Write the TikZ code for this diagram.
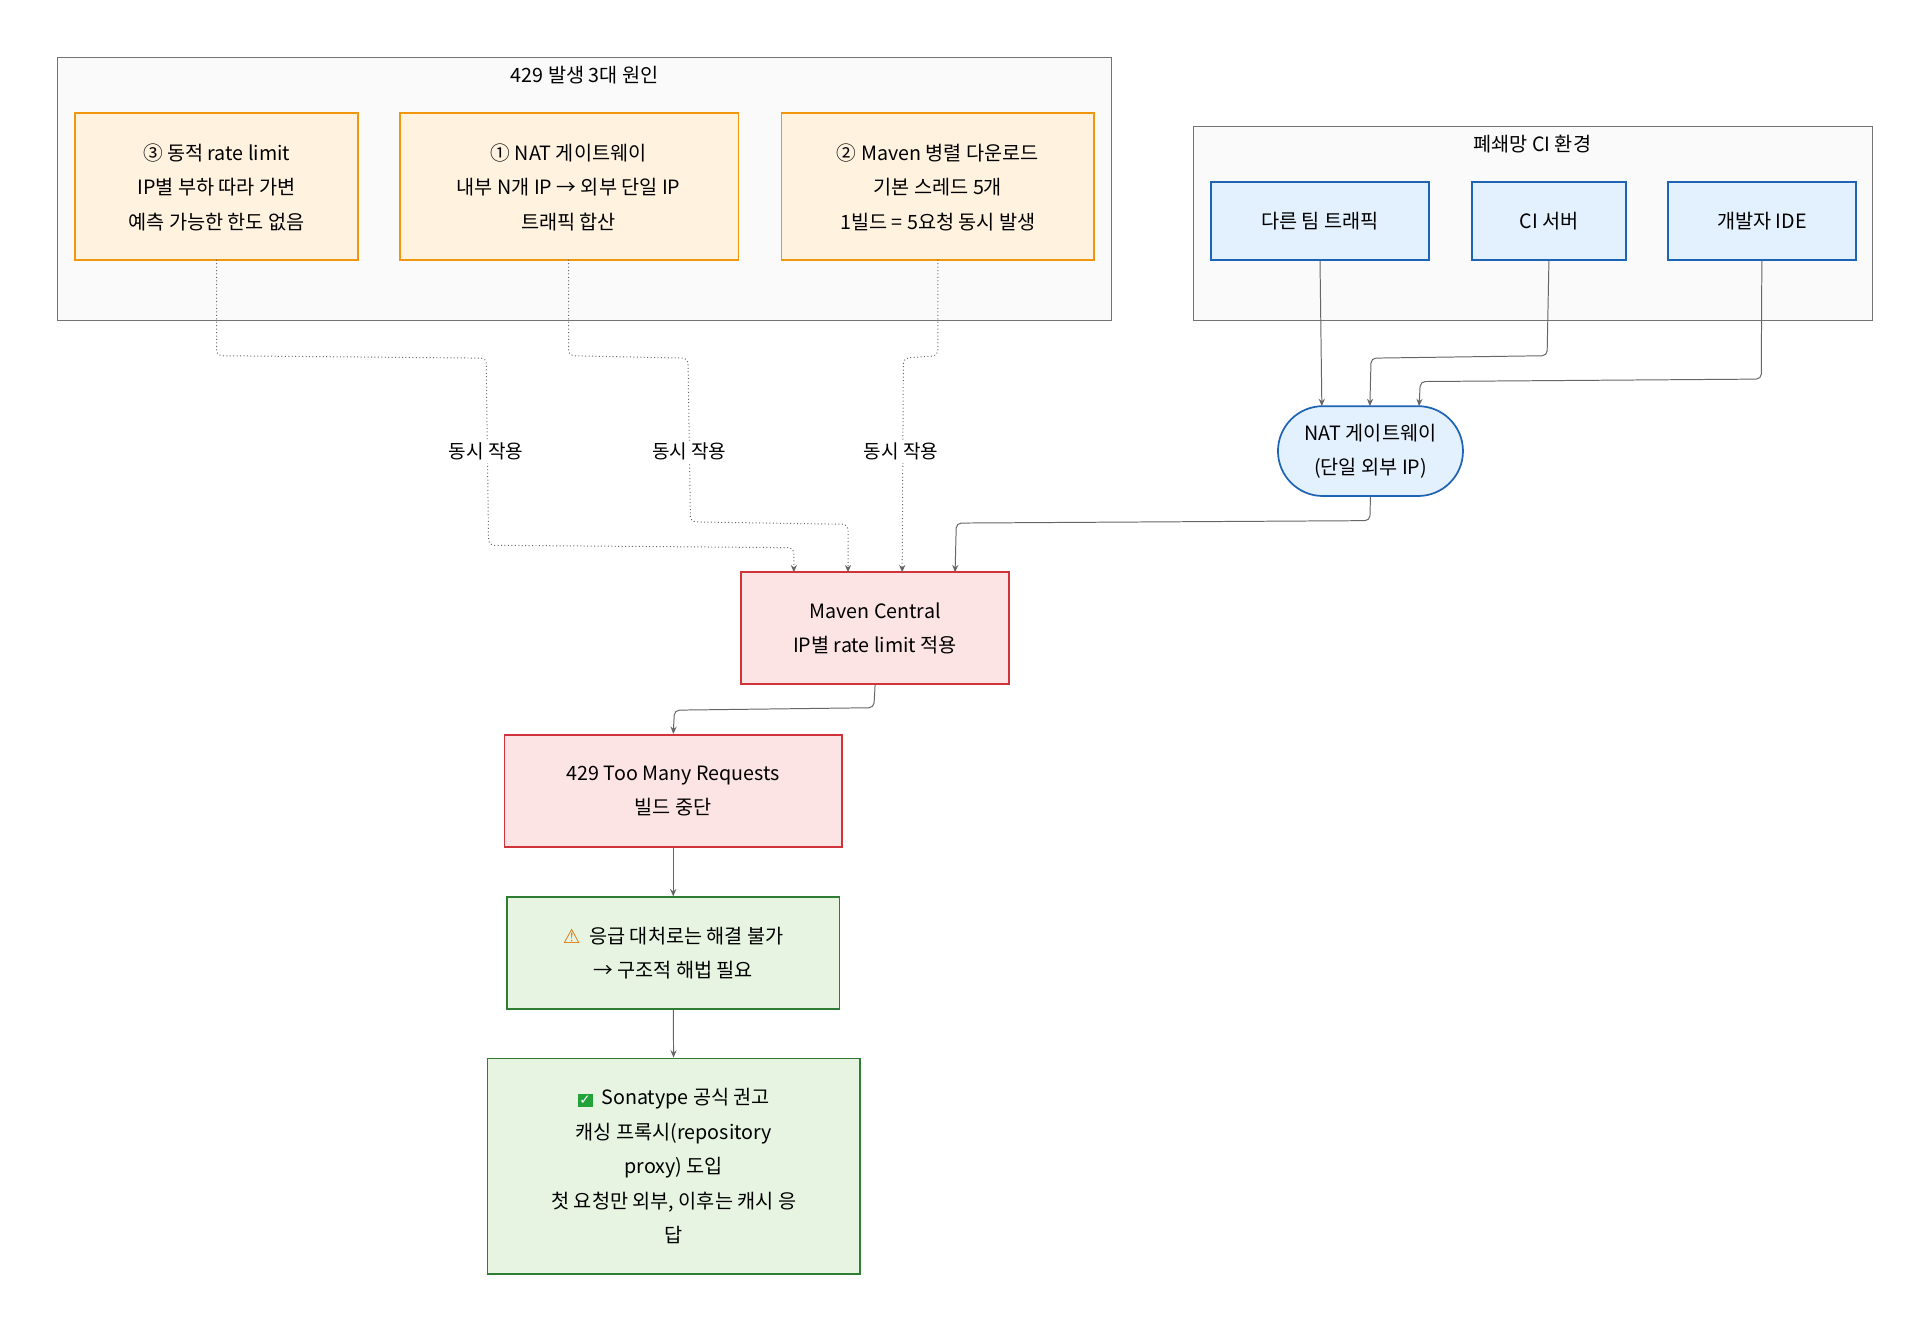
\documentclass[tikz,border=0pt]{standalone}
\usepackage{fontspec}
\setmainfont{Noto Sans CJK KR}
\newfontfamily\dejavu{DejaVu Sans}
\usetikzlibrary{arrows.meta,shapes.misc}
\definecolor{ofill}{HTML}{FFF3E0}\definecolor{ostroke}{HTML}{F0960F}
\definecolor{bfill}{HTML}{E3F0FD}\definecolor{bstroke}{HTML}{1E64B4}
\definecolor{rfill}{HTML}{FCE4E4}\definecolor{rstroke}{HTML}{D0343A}
\definecolor{gfill}{HTML}{E6F4E1}\definecolor{gstroke}{HTML}{2E7D32}
\definecolor{grp}{HTML}{FAFAFA}\definecolor{chkg}{HTML}{22A33A}
\newcommand{\chk}{{\setlength{\fboxsep}{1.5pt}\colorbox{chkg}{\color{white}\dejavu\fontsize{11}{11}\selectfont ✓}}}
\begin{document}
\begin{tikzpicture}[x=1pt,y=-1pt,font=\fontsize{16}{28}\selectfont,
  grp/.style={draw=black!55,fill=grp,line width=0.6pt},
  bx/.style={draw,line width=1.4pt,align=center},
  ob/.style={bx,draw=ostroke,fill=ofill},
  rb/.style={bx,draw=rstroke,fill=rfill},
  gb/.style={bx,draw=gstroke,fill=gfill},
  bb/.style={draw=bstroke,fill=bfill,line width=1.4pt,minimum height=63pt},
  ed/.style={draw=black!60,line width=0.8pt,-{Stealth[length=6pt,width=5pt]},rounded corners=4pt},
  dd/.style={ed,dotted},
  lab/.style={fill=white,inner sep=2pt,font=\fontsize{15.5}{18}\selectfont}]
\useasboundingbox (0,0) rectangle (1560,1077);
\draw[grp] (47,47) rectangle (903,260);
\node at (475,61) {429 발생 3대 원인};
\draw[grp] (970,103) rectangle (1521,260);
\node at (1245,117) {폐쇄망 CI 환경};
\path[ob] (61,92) rectangle (291,211);
\node[align=center] (b3) at (176,152) {③ 동적 rate limit\\IP별 부하 따라 가변\\예측 가능한 한도 없음};
\path[ob] (325,92) rectangle (600,211);
\node[align=center] (b1) at (462,152) {① NAT 게이트웨이\\내부 N개 IP → 외부 단일 IP\\트래픽 합산};
\path[ob] (635,92) rectangle (889,211);
\node[align=center] (b2) at (762,152) {② Maven 병렬 다운로드\\기본 스레드 5개\\1빌드 = 5요청 동시 발생};
\node[bb,minimum width=177pt] (t) at (1072.5,179.5) {다른 팀 트래픽};
\node[bb,minimum width=125pt] (ci) at (1258.5,179.5) {CI 서버};
\node[bb,minimum width=153pt] (ide) at (1431.5,179.5) {개발자 IDE};
\node[rounded rectangle,draw=bstroke,fill=bfill,line width=1.4pt,minimum width=157pt,minimum height=73pt,align=center] (nat) at (1113.5,366.5) {NAT 게이트웨이\\(단일 외부 IP)};
\node[rb,minimum width=218pt,minimum height=91pt] (mc) at (711,510.5) {Maven Central\\IP별 rate limit 적용};
\node[rb,minimum width=274pt,minimum height=91pt] (tm) at (547,642.5) {429 Too Many Requests\\빌드 중단};
\node[gb,minimum width=270pt,minimum height=91pt] (w) at (547,774.5) {{\dejavu\color{orange!90!black}⚠}\ \ 응급 대처로는 해결 불가\\→ 구조적 해법 필요};
\node[gb,minimum width=303pt,minimum height=175pt] (s) at (547.5,947.5) {\chk\ \ Sonatype 공식 권고\\캐싱 프록시(repository\\proxy) 도입\\첫 요청만 외부, 이후는 캐시 응\\답};
% dotted edges
\draw[dd] (176,211) -- (176,289) -- (395,291) -- (397,443) -- (645,445) -- (645,465);
\node[lab] at (395,367) {동시 작용};
\draw[dd] (462,211) -- (462,289) -- (559,291) -- (561,424) -- (689,426) -- (689,465);
\node[lab] at (560,367) {동시 작용};
\draw[dd] (762,211) -- (762,289) -- (734,291) -- (733,465);
\node[lab] at (732,367) {동시 작용};
% solid
\draw[ed] (t.south) -- (1074,330);
\draw[ed] (ci.south) -- (1257,289) -- (1114,291) -- (1113,330);
\draw[ed] (ide.south) -- (1431,308) -- (1154,310) -- (1153,330);
\draw[ed] (nat.south) -- (1113,423) -- (777,425) -- (776,465);
\draw[ed] (mc.south) -- (710,575) -- (548,577) -- (tm.north);
\draw[ed] (tm) -- (w);
\draw[ed] (w) -- (s);
\end{tikzpicture}
\end{document}
